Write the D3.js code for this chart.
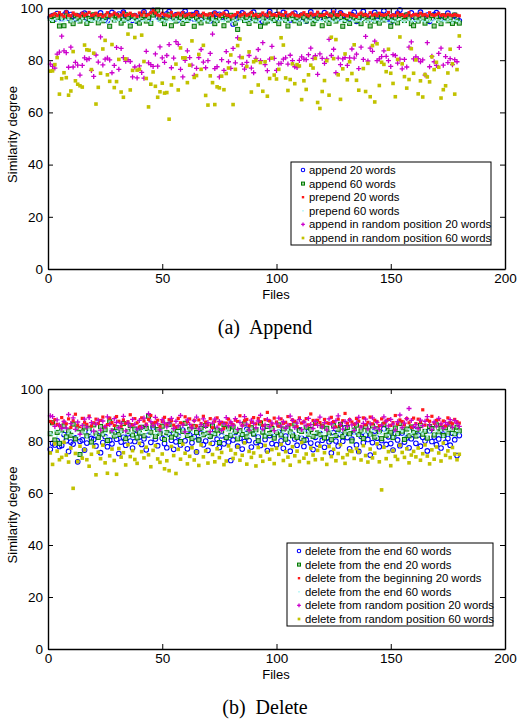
<!DOCTYPE html>
<meta charset="utf-8">

<script src="https://d3js.org/d3.v7.min.js"></script>

<style>
  body {
    margin: 0;
    background-color: #ffffff;
  }
  text {
    font-family: "Liberation Sans", Arial, sans-serif;
  }
</style>

<svg id="my_dataviz" width="517" height="722"></svg>

<script>

// axis ticks
var xTicks = [0, 50, 100, 150, 200]
var yTicks = [0, 20, 40, 60, 80, 100]

// legend labels
var appendNames = ["append 20 words", "append 60 words", "prepend 20 words", "prepend 60 words",
  "append in random position 20 words", "append in random position 60 words"]
var deleteNames = ["delete from the end 60 words", "delete from the end 20 words", "delete from the beginning 20 words",
  "delete from the end 60 words", "delete from random position 20 words", "delete from random position 60 words"]

// (a) Append - similarity degree per file (files 1..180)
var aAppend20 = [
96.4,97.1,95.8,97.9,96.6,96.0,97.3,98.2,96.1,97.5,96.8,95.9,97.0,96.3,97.6,98.0,96.2,97.2,95.7,96.9,
97.4,96.0,98.1,96.7,95.6,95.2,97.0,98.3,96.5,96.1,97.7,96.4,98.4,97.2,95.9,96.8,95.3,97.1,95.0,96.2,
97.3,98.5,96.9,96.0,97.6,99.1,98.0,96.6,95.8,97.2,96.3,97.8,98.6,96.9,96.1,97.4,95.4,96.7,97.9,98.8,
97.0,96.2,97.5,95.8,98.2,96.9,95.6,97.1,96.4,95.9,95.1,97.3,98.0,96.0,97.6,96.5,97.2,98.3,96.8,95.7,
93.9,97.0,96.1,97.4,98.1,95.8,96.9,96.3,97.7,98.4,96.6,95.5,97.1,94.8,96.0,97.3,98.6,97.0,96.2,97.5,
95.9,97.2,98.3,96.1,96.8,95.4,97.5,98.0,96.7,96.0,97.3,96.4,95.0,97.0,98.5,96.9,95.8,97.4,96.2,97.1,
98.2,96.8,95.6,97.3,99.0,96.9,96.0,98.1,97.2,95.7,96.6,96.1,97.5,98.4,94.9,95.8,97.0,98.7,96.5,96.0,
97.2,95.9,98.3,96.7,96.1,97.4,98.9,96.8,95.8,94.6,97.0,96.2,98.0,99.2,96.9,95.6,97.3,96.4,98.1,96.8,
95.7,97.1,98.4,96.9,95.9,97.3,94.9,96.0,97.5,98.2,96.6,95.8,97.0,96.3,98.0,96.7,95.4,97.2,96.0,95.1]

var aAppend60 = [
96.0,95.2,97.1,96.4,93.1,96.3,93.2,97.0,96.5,95.1,94.0,97.2,96.1,95.0,96.4,97.3,94.1,96.0,95.3,97.4,
96.2,94.3,97.0,95.1,96.5,97.2,93.0,96.3,95.4,97.1,96.0,94.2,95.3,97.4,96.1,93.1,97.0,96.4,95.0,94.2,
96.3,97.1,95.0,96.4,94.1,97.3,98.2,99.2,96.0,95.3,94.0,96.2,97.4,93.2,96.1,95.0,97.2,96.3,94.1,97.0,
95.2,96.4,97.1,93.0,96.2,95.1,94.3,97.0,96.4,95.0,97.3,96.1,94.0,95.2,96.3,97.1,93.2,96.0,95.4,97.2,
96.1,94.2,91.8,96.3,97.0,95.2,96.4,94.1,97.3,96.0,95.1,97.2,93.0,96.2,94.3,95.0,97.4,96.1,95.2,96.3,
94.0,97.1,96.2,95.3,93.1,96.0,97.2,95.1,96.4,94.2,97.0,96.3,95.0,97.1,96.2,94.0,95.3,96.1,97.2,93.2,
96.0,95.4,94.1,97.3,96.2,95.0,97.1,96.4,93.0,95.2,96.3,94.1,97.0,96.2,95.1,96.4,94.0,97.2,96.0,95.3,
93.1,96.2,95.0,97.3,94.2,96.1,95.4,97.0,96.3,93.0,95.1,96.2,94.3,97.1,96.0,95.2,97.3,96.1,94.0,93.2,
96.3,95.0,97.2,96.1,94.2,95.3,96.0,97.1,93.1,96.4,95.2,94.0,97.0,96.3,95.1,96.2,94.1,97.3,95.0,94.2]

var aPrepend20 = [
97.0,97.3,97.8,97.1,98.2,97.4,96.8,98.5,97.2,97.0,98.1,97.5,97.3,96.9,98.0,97.2,97.6,98.3,97.1,97.4,
98.0,97.2,97.5,96.8,97.3,98.2,97.0,97.4,98.1,97.6,96.9,97.3,98.3,97.1,97.5,98.0,97.2,97.4,96.8,98.1,
97.3,98.4,97.1,97.5,98.2,99.0,98.1,97.3,97.0,98.0,97.4,97.2,96.9,98.3,97.1,97.5,98.0,97.3,98.2,97.0,
97.4,97.8,97.1,97.5,98.3,97.2,97.0,98.0,97.4,97.3,97.8,97.1,98.2,97.5,97.0,97.6,98.1,97.3,97.2,96.6,
97.1,97.5,98.2,97.0,97.4,98.0,97.2,97.6,98.3,97.1,97.5,96.8,97.3,98.1,97.4,97.0,98.2,97.3,97.5,97.1,
98.0,97.4,97.2,98.3,97.0,97.5,98.1,97.3,97.1,96.9,97.6,98.2,97.4,97.0,98.0,97.3,97.5,98.4,97.1,97.2,
97.5,98.1,97.3,97.0,98.5,97.4,97.1,98.2,97.5,97.3,97.0,98.0,97.4,97.2,96.8,97.6,98.1,97.3,97.5,97.0,
98.2,97.3,97.6,97.1,98.0,97.4,97.2,97.5,98.3,97.0,97.4,97.1,98.1,97.3,97.5,96.9,97.2,98.2,97.0,97.4,
97.6,97.1,98.0,97.3,97.5,97.0,98.2,97.4,97.1,97.5,98.0,97.2,97.4,97.0,97.6,97.3,97.1,97.5,97.2,97.0]

var aPrepend60 = [
95.4,95.0,95.8,95.2,94.6,95.5,94.9,95.3,95.7,94.8,95.1,95.6,94.7,95.2,95.9,95.0,94.5,95.4,95.1,94.9,
95.6,95.2,94.8,95.5,95.0,94.4,95.3,95.8,94.9,95.1,95.4,94.7,95.6,95.2,94.6,95.0,95.5,94.8,95.3,95.7,
94.9,95.2,95.6,95.0,94.5,95.4,95.9,95.1,94.8,95.3,95.0,94.6,95.5,95.2,94.9,95.7,95.1,94.7,95.4,95.0,
95.3,94.8,95.6,95.1,94.5,95.2,95.8,94.9,95.4,95.0,94.4,95.5,95.2,94.7,95.6,95.1,94.9,95.3,95.7,94.6,
95.0,95.4,94.8,95.2,95.9,94.9,95.1,95.5,94.6,95.3,95.0,94.7,95.6,95.2,94.8,95.4,95.1,94.5,95.3,95.7,
94.9,95.2,95.5,95.0,94.6,95.4,95.8,95.1,94.8,95.3,95.0,94.4,95.6,95.2,94.9,95.5,95.1,94.7,95.3,95.0,
95.4,94.8,95.7,95.1,94.6,95.2,95.5,94.9,95.3,95.0,94.5,95.6,95.2,94.8,95.4,95.1,94.9,95.7,95.0,94.6,
95.3,95.0,94.7,95.5,95.2,94.9,95.6,95.1,94.4,95.3,95.0,94.8,95.4,95.7,95.1,94.6,95.2,95.5,94.9,95.0,
95.2,94.8,95.6,95.0,94.7,95.4,95.1,94.9,95.3,95.5,94.6,95.2,95.0,94.8,95.6,95.1,94.5,95.3,95.0,94.7]

var aRandom20 = [
78.5,77.6,77.0,82.3,83.1,89.2,83.6,82.9,77.3,85.0,77.4,79.2,78.1,74.3,78.0,80.9,80.2,80.6,76.1,73.8,
82.0,79.3,88.9,78.2,80.4,80.8,80.1,75.2,78.0,84.9,76.5,84.5,81.0,79.6,80.2,79.5,73.6,77.4,73.2,77.8,
75.3,73.1,83.4,79.0,78.3,77.6,82.4,77.7,85.1,80.9,79.2,81.8,86.0,77.1,80.8,87.1,86.1,76.5,73.6,79.9,
83.6,81.0,78.1,74.2,76.9,81.0,84.1,79.3,77.1,79.8,82.6,90.0,76.8,77.5,73.6,80.2,76.1,83.3,79.4,76.9,
84.5,79.0,88.6,81.3,78.4,76.6,79.2,81.8,77.0,75.2,80.7,84.1,79.8,86.7,78.3,76.0,80.4,85.3,80.7,76.1,
78.6,78.8,80.4,80.9,78.5,81.9,79.8,77.5,77.2,79.9,81.3,80.4,80.2,82.1,84.6,80.7,81.7,74.6,82.4,80.7,
78.8,80.5,88.0,81.8,84.2,75.2,80.8,78.3,80.5,81.0,78.0,80.9,84.3,80.8,82.3,76.8,85.0,80.3,89.1,79.7,
84.6,83.4,87.3,79.8,80.5,81.4,83.6,81.5,79.8,77.6,82.1,81.8,78.9,80.4,76.7,80.3,77.4,85.0,87.0,80.5,
81.3,80.6,79.4,80.1,74.3,86.7,77.5,81.5,79.4,78.0,82.6,84.6,78.1,81.4,79.1,80.6,78.3,80.2,79.4,84.9]

var aRandom60 = [
75.8,75.9,78.3,81.0,67.0,72.9,75.2,73.3,66.6,68.2,83.3,72.1,70.8,70.2,69.7,85.8,84.0,83.8,76.4,82.7,
63.2,69.6,75.0,84.3,87.6,74.4,71.9,86.0,69.5,71.8,80.3,67.8,65.8,80.5,90.0,68.6,76.1,88.7,76.2,76.5,
89.6,79.5,73.0,62.1,70.8,75.5,70.0,65.8,67.9,71.2,67.4,67.6,57.4,70.5,73.3,78.5,68.6,84.7,80.9,80.9,
71.4,78.1,87.4,73.4,74.1,82.2,76.5,85.7,66.5,62.8,74.0,71.4,63.0,69.8,69.4,73.9,68.7,74.9,77.0,82.0,
63.0,76.5,85.6,88.1,81.0,73.6,77.6,83.2,67.8,79.4,79.9,70.5,79.1,68.1,79.4,66.2,73.0,80.8,74.3,72.8,
76.5,88.6,85.8,73.2,68.4,72.6,78.6,71.0,78.3,77.8,64.9,72.1,68.8,74.4,78.1,77.0,80.7,63.8,61.5,68.0,
72.2,79.8,66.6,88.8,80.6,87.9,74.4,65.0,76.7,82.4,72.5,79.4,74.9,85.9,72.3,68.5,39.0,76.8,68.0,78.8,
66.0,85.6,64.0,86.3,70.3,79.2,78.4,75.6,84.2,75.0,71.1,66.0,80.3,88.9,78.6,73.7,69.3,72.6,84.4,75.0,
80.1,67.1,72.1,65.9,74.5,73.6,71.7,81.3,76.4,79.2,77.3,65.5,68.7,70.2,75.1,84.2,78.6,67.0,76.4,89.3]

// (b) Delete
var bEnd60 = [
76.8,79.1,78.5,80.2,77.9,78.3,82.5,80.1,76.0,79.6,78.8,81.2,72.0,79.9,80.4,76.5,79.2,83.4,81.0,80.6,
78.1,82.0,75.5,79.4,81.7,77.8,80.3,78.9,83.1,80.7,75.2,79.6,81.4,78.4,82.8,80.0,77.3,79.8,84.0,81.5,
78.7,80.9,76.6,82.3,79.5,85.3,80.8,78.2,83.6,81.1,79.0,77.4,82.6,80.3,76.8,79.7,81.9,78.5,84.2,80.1,
77.0,82.4,79.3,81.6,75.8,80.5,83.0,78.6,80.0,76.4,81.8,79.1,84.1,80.7,77.5,82.0,78.9,81.3,79.6,72.5,
80.4,83.3,78.0,81.1,76.9,79.8,84.5,80.2,77.7,82.7,79.4,81.5,78.3,85.0,80.6,76.3,82.1,79.0,81.7,78.6,
83.4,80.1,77.2,81.9,79.5,76.1,82.6,80.8,78.4,84.3,81.0,77.9,80.5,83.7,79.2,76.7,81.4,78.8,82.9,80.3,
77.6,81.2,79.7,75.4,83.2,80.0,78.1,82.5,79.9,85.1,81.3,77.0,80.7,83.5,78.5,76.0,81.8,79.3,82.2,80.6,
74.6,79.4,83.8,81.1,77.8,80.2,84.7,78.7,81.6,79.0,76.5,82.8,80.4,78.2,83.1,79.6,81.2,77.4,80.9,84.4,
79.1,82.3,78.0,81.4,80.0,76.2,83.9,79.8,81.5,78.6,80.8,77.3,82.7,79.5,81.0,78.4,83.0,80.5,74.4,82.1]

var bEnd20 = [
82.8,87.0,80.4,83.3,79.1,84.2,85.8,81.6,83.9,82.2,86.5,80.8,84.7,74.8,83.5,85.4,82.0,84.9,79.6,86.2,
83.0,81.4,85.6,82.7,84.3,80.2,87.4,83.8,81.9,85.1,82.5,84.0,86.7,80.9,83.6,85.9,82.3,84.6,81.2,83.1,
85.3,82.0,84.8,89.5,83.4,86.1,81.7,84.4,82.9,85.7,80.6,83.2,86.4,81.5,84.1,82.6,85.2,79.8,83.7,86.8,
82.1,84.5,81.0,85.5,83.3,80.4,84.9,82.4,86.0,83.0,81.8,85.8,82.8,84.2,79.4,83.9,86.3,81.3,84.7,82.2,
85.4,83.6,80.8,84.0,82.5,86.6,81.6,83.8,85.1,82.7,84.3,80.1,86.9,83.4,81.9,85.6,82.9,84.8,81.1,83.2,
86.2,82.3,84.6,80.7,85.0,83.5,82.0,86.5,81.4,84.1,83.7,80.3,85.3,82.6,84.4,81.8,86.8,83.1,82.4,85.7,
81.2,84.9,83.0,80.5,85.9,82.1,84.5,86.4,81.7,83.3,85.2,82.8,80.0,84.2,86.1,82.5,83.9,81.0,85.5,84.0,
82.7,85.8,81.5,84.7,83.6,80.9,86.3,82.2,84.1,83.4,81.3,85.0,82.9,86.7,83.8,80.6,84.6,82.0,85.4,83.2,
81.9,84.3,86.0,82.6,83.7,81.1,85.6,84.8,82.3,86.2,83.5,84.9,82.1,85.1,83.0,86.5,84.4,82.8,85.3,83.9]

var bBegin20 = [
87.5,86.9,88.2,86.4,85.9,89.0,87.3,86.6,88.5,85.2,87.8,90.3,86.1,85.0,88.7,87.2,86.4,89.6,85.8,87.0,
88.4,86.7,87.9,89.2,85.5,86.3,88.8,87.1,86.0,89.4,87.6,85.7,88.1,86.8,87.4,90.1,86.2,88.6,87.0,85.4,
88.9,87.7,86.5,88.3,89.8,86.9,87.2,88.0,85.6,87.5,89.1,86.4,88.2,87.8,86.1,85.3,88.7,87.0,86.6,89.3,
87.4,88.5,86.0,87.9,85.8,88.1,86.7,89.5,87.3,86.2,88.6,85.1,87.6,88.9,86.5,87.2,84.8,86.9,88.4,87.0,
86.3,88.0,87.5,89.7,86.1,87.8,88.3,85.9,87.1,89.0,86.6,88.7,87.4,86.0,88.2,91.0,87.7,86.4,88.8,87.3,
85.7,88.5,86.8,87.2,89.4,86.3,88.1,87.6,85.5,88.9,86.9,87.4,88.6,86.2,90.4,87.9,86.5,88.0,87.1,85.8,
88.3,87.0,86.7,89.1,87.5,85.4,88.4,86.1,87.8,90.6,86.8,88.2,87.3,86.4,88.7,87.6,85.6,88.9,86.3,87.2,
89.2,86.6,88.0,87.4,85.9,88.5,86.9,87.7,88.3,86.0,87.1,89.8,86.5,88.1,87.5,86.2,88.6,87.0,85.3,88.8,
86.7,88.4,87.3,92.0,86.1,88.0,87.6,89.5,86.8,87.9,88.2,86.4,87.7,85.8,88.9,87.1,86.6,88.3,87.4,86.9]

var bEnd60b = [
83.2,82.5,84.0,81.8,83.6,82.9,84.4,81.5,83.0,84.1,82.3,83.7,81.9,84.6,82.7,83.3,81.6,84.2,82.8,83.5,
82.1,83.9,84.5,82.4,83.1,81.7,84.3,82.6,83.8,82.0,84.7,83.4,81.8,82.9,84.0,83.2,82.2,84.4,81.6,83.6,
83.0,84.2,82.5,83.7,81.9,84.6,82.8,83.3,82.0,84.1,83.5,81.7,82.7,84.3,83.1,82.4,83.8,81.8,84.5,82.6,
84.0,82.3,83.6,81.5,83.2,84.4,82.1,83.9,82.8,81.9,84.2,83.0,82.6,84.7,81.7,83.4,82.2,84.1,83.7,82.5,
82.9,84.3,81.6,83.5,82.4,84.0,83.1,81.8,84.6,82.7,83.3,82.0,84.2,83.6,81.9,82.8,84.5,83.0,82.3,83.8,
84.1,82.6,83.4,81.7,84.3,82.9,83.2,84.6,82.1,83.7,81.8,84.0,82.5,83.5,82.2,84.4,83.1,81.6,83.9,82.7,
83.3,84.2,82.0,83.6,81.9,84.5,82.8,83.0,84.1,82.4,83.8,81.7,84.3,82.6,83.4,82.1,84.7,83.2,82.9,83.5,
82.2,83.9,84.4,81.8,83.1,82.7,84.0,83.6,82.3,84.6,81.6,83.3,82.5,84.2,83.7,82.0,83.0,84.5,82.8,83.4,
84.3,82.1,83.5,82.9,84.1,81.9,83.2,84.6,82.6,83.8,82.4,84.0,81.7,83.6,82.2,84.4,83.1,82.5,83.9,82.8]

var bRandom20 = [
89.7,89.4,85.6,88.1,86.2,84.9,87.5,85.0,90.2,86.7,88.9,84.5,87.3,82.6,86.0,88.4,85.3,89.0,87.1,83.8,
86.5,88.0,84.2,87.7,85.5,89.3,86.3,84.0,88.6,87.2,85.1,86.8,89.5,83.9,87.0,85.7,88.3,86.4,84.6,87.9,
85.2,88.8,86.1,90.5,87.4,85.9,89.1,86.6,84.3,88.2,87.0,85.4,86.9,88.7,84.8,87.6,85.8,89.8,86.2,83.5,
88.1,86.4,85.0,87.8,89.2,84.7,86.3,88.5,85.6,87.1,83.6,86.9,88.4,85.3,87.5,84.1,86.7,89.0,85.9,87.3,
86.0,88.6,84.5,87.2,85.8,89.4,86.5,84.2,88.0,86.8,85.1,87.7,89.9,84.6,86.2,88.3,85.5,87.0,84.0,86.6,
88.8,85.7,87.4,84.9,86.1,89.6,87.9,85.2,86.9,88.2,84.4,87.3,85.9,88.7,86.3,84.8,87.6,86.0,89.2,85.4,
87.1,84.3,88.5,86.7,85.0,87.8,89.7,86.4,84.6,87.5,85.6,88.1,86.2,84.1,87.0,89.1,85.3,86.8,88.4,84.7,
86.6,88.9,85.1,87.2,84.5,86.0,89.3,87.7,85.8,88.3,86.5,84.2,87.4,90.0,85.2,86.9,88.6,92.5,87.9,85.5,
86.3,84.8,88.0,85.9,87.6,89.4,86.1,84.4,87.3,85.7,88.7,86.6,85.0,87.1,86.4,88.2,85.3,87.8,86.8,85.6]

var bRandom60 = [
75.4,71.0,78.9,76.1,72.8,73.7,79.5,74.6,71.9,77.3,61.8,75.2,72.1,78.0,73.4,76.6,72.8,70.3,74.9,77.8,
67.0,75.7,73.2,78.4,71.6,67.6,74.3,76.9,72.5,67.2,77.1,73.8,75.5,70.8,78.6,74.0,76.3,72.9,71.4,79.1,
75.9,73.5,77.6,74.7,70.1,76.4,78.2,73.1,71.8,75.0,69.3,72.4,68.6,77.9,74.4,67.5,76.8,73.0,78.8,75.3,
71.2,74.1,77.4,72.7,75.8,70.6,78.5,73.9,76.2,71.5,79.0,74.8,72.0,77.0,73.6,75.6,70.9,72.3,78.1,76.5,
73.3,75.1,77.7,72.6,74.5,79.3,71.1,76.0,73.7,75.4,70.4,77.5,74.2,72.2,78.3,75.7,73.0,76.7,71.3,77.2,
74.9,78.7,72.5,75.9,73.8,70.7,77.8,74.3,76.1,72.1,79.4,73.4,75.0,71.7,77.3,74.6,72.8,76.4,78.0,73.1,
75.5,71.0,77.9,74.0,76.8,72.4,75.2,78.6,73.6,71.4,74.7,76.2,76.0,73.3,77.1,75.8,72.7,78.2,74.4,71.9,
76.9,73.5,75.3,78.9,72.0,61.2,77.6,73.2,75.9,70.5,76.3,74.1,72.9,78.4,75.6,73.7,77.0,71.6,74.6,76.0,
73.9,77.3,72.6,75.1,78.5,74.2,71.2,76.6,73.0,77.7,75.4,72.3,79.2,74.5,76.2,73.6,77.5,75.0,72.8,74.9]

var svg = d3.select("svg")

svg.append("rect").attr("width", 517).attr("height", 722).attr("fill", "#fff")

// x scale shared by both panels
var x = d3.scaleLinear()
    .domain([0, 200])
    .range([48, 505])

// MATLAB style marker for series k, drawn at 0,0 in g
function marker(g, k, s) {
  s = s || 1
  if (k == 0) {
    g.append("circle").attr("r", 2.3 * s)
      .attr("fill", "none").attr("stroke", "#0000ff").attr("stroke-width", 1.1)
  } else if (k == 1) {
    g.append("rect").attr("x", -2 * s).attr("y", -2 * s).attr("width", 4 * s).attr("height", 4 * s)
      .attr("fill", "#9fcf9f").attr("stroke", "#007a00").attr("stroke-width", 1)
  } else if (k == 2) {
    g.append("rect").attr("x", -1.6 * s).attr("y", -1.6 * s).attr("width", 3.2 * s).attr("height", 3.2 * s)
      .attr("fill", "#ff1a1a")
  } else if (k == 3) {
    g.append("rect").attr("x", -1 * s).attr("y", -1 * s).attr("width", 2 * s).attr("height", 2 * s)
      .attr("fill", "#aaf4f4")
  } else if (k == 4) {
    g.append("path").attr("d", "M-2.5,0H2.5M0,-2.5V2.5".replace(/2\.5/g, 2.5 * s))
      .attr("stroke", "#cc00cc").attr("stroke-width", 1.3).attr("fill", "none")
  } else {
    g.append("rect").attr("x", -1.8 * s).attr("y", -1.8 * s).attr("width", 3.6 * s).attr("height", 3.6 * s)
      .attr("fill", "#c2c200")
  }
}

function drawPanel(top, bottom, series, names, box, caption, captionY) {

  var y = d3.scaleLinear()
      .domain([0, 100])
      .range([bottom, top])

  var g = svg.append("g")

  // points, in plotting order
  series.forEach(function(vals, k) {
    g.append("g")
      .selectAll("g")
      .data(vals)
      .enter()
      .append("g")
        .attr("transform", function(d, i) { return "translate(" + x(i + 1) + "," + y(d) + ")" })
        .each(function() { marker(d3.select(this), k) })
  })

  // axes with inward ticks
  g.append("g")
      .attr("transform", "translate(0," + bottom + ")")
      .call(d3.axisBottom(x).tickValues(xTicks).tickSizeInner(-5).tickSizeOuter(0).tickPadding(4))
  g.append("g")
      .attr("transform", "translate(48,0)")
      .call(d3.axisLeft(y).tickValues(yTicks).tickSizeInner(-5).tickSizeOuter(0).tickPadding(5))
  g.append("g")
      .attr("transform", "translate(0," + top + ")")
      .call(d3.axisTop(x).tickValues(xTicks).tickSizeInner(-5).tickSizeOuter(0).tickFormat(""))
  g.append("g")
      .attr("transform", "translate(505,0)")
      .call(d3.axisRight(y).tickValues(yTicks).tickSizeInner(-5).tickSizeOuter(0).tickFormat(""))

  g.selectAll(".domain").attr("stroke", "#000").attr("stroke-width", 1.4)
  g.selectAll(".tick line").attr("stroke", "#000").attr("stroke-width", 1)
  g.selectAll(".tick text")
    .attr("fill", "#000")
    .style("font-family", "Liberation Sans, Arial, sans-serif")
    .style("font-size", "13.5px")

  // axis titles
  g.append("text")
    .attr("x", 276).attr("y", bottom + 30)
    .attr("text-anchor", "middle")
    .style("font-size", "13px")
    .text("Files")
  g.append("text")
    .attr("transform", "translate(17," + ((top + bottom) / 2 - 4) + ") rotate(-90)")
    .attr("text-anchor", "middle")
    .style("font-size", "13px")
    .text("Similarity degree")

  // legend
  var lg = g.append("g")
  lg.append("rect")
    .attr("x", box.x).attr("y", box.y).attr("width", box.w).attr("height", box.h)
    .attr("fill", "#fff").attr("stroke", "#000").attr("stroke-width", 1)
  names.forEach(function(name, k) {
    var ry = box.y + 8 + k * 13.6
    var m = lg.append("g").attr("transform", "translate(" + (box.x + 12) + "," + ry + ")")
    marker(m, k, 0.75)
    lg.append("text")
      .attr("x", box.x + 18).attr("y", ry + 4)
      .style("font-size", "11.3px")
      .text(name)
  })

  // caption
  svg.append("text")
    .attr("x", 265).attr("y", captionY)
    .attr("text-anchor", "middle")
    .style("font-family", "Liberation Serif, Times New Roman, serif")
    .style("font-size", "20px")
    .attr("xml:space", "preserve")
    .text(caption)
}

drawPanel(8, 269, [aAppend20, aAppend60, aPrepend20, aPrepend60, aRandom20, aRandom60], appendNames,
  {x: 291, y: 162, w: 200, h: 83}, "(a)  Append", 334)

drawPanel(389, 649, [bEnd60, bEnd20, bBegin20, bEnd60b, bRandom20, bRandom60], deleteNames,
  {x: 287, y: 543, w: 206, h: 83}, "(b)  Delete", 714)

</script>
